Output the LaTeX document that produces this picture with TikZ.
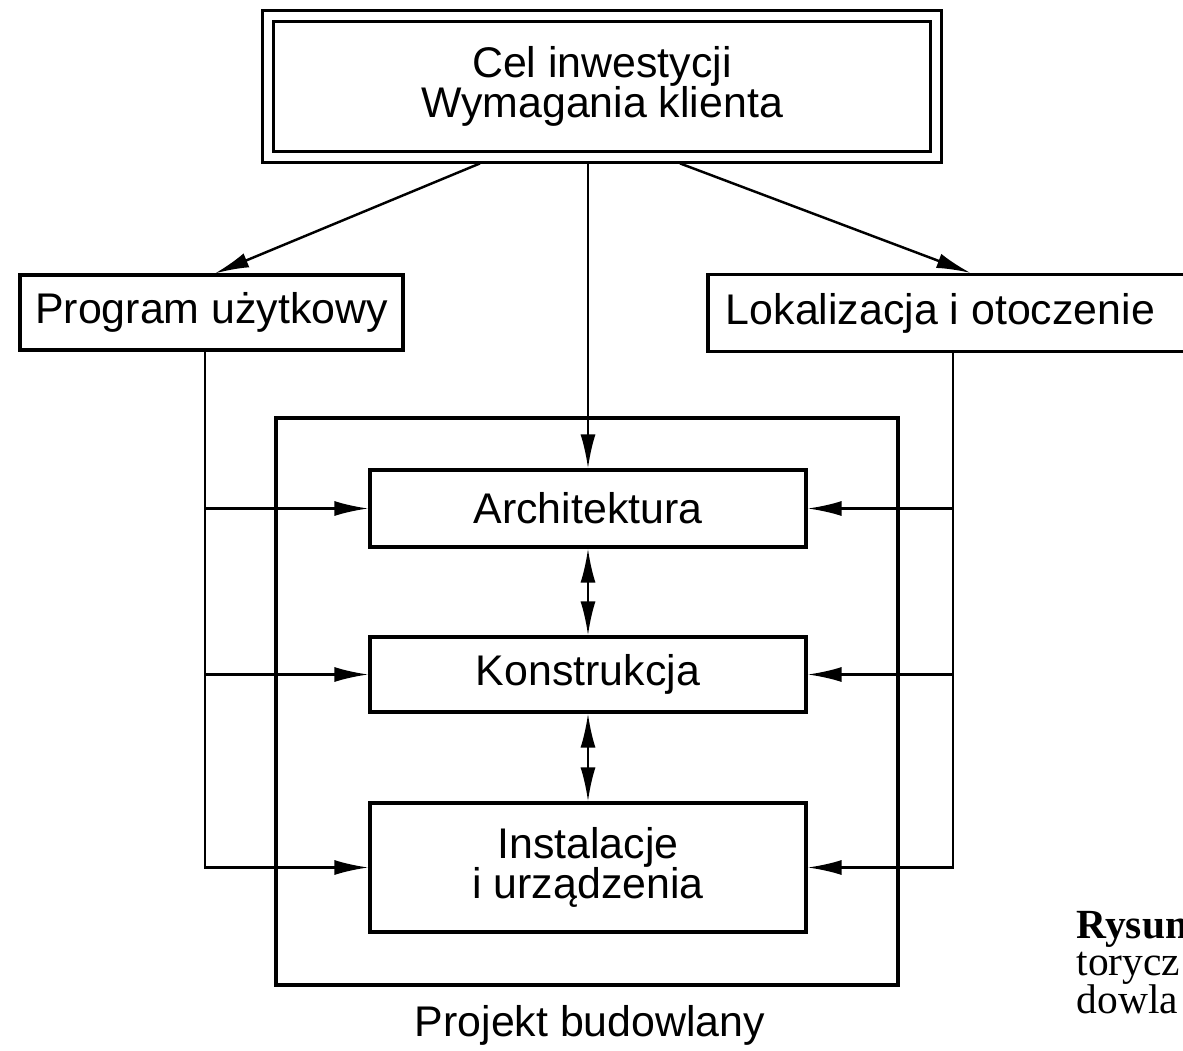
\documentclass[tikz,border=0pt]{standalone}
\usepackage{fontspec}
\setmainfont{Liberation Sans}
\newfontfamily\capfont{Liberation Serif}
\usetikzlibrary{arrows.meta}

\begin{document}
\begin{tikzpicture}[
        box/.style={draw, line width=0.9pt, align=center, inner sep=0pt, font=\fontsize{12.2}{11.6}\selectfont},
        goalbox/.style={box, double, double distance=2.3pt, line width=0.8pt},
        frame/.style={draw, line width=1.1pt, inner sep=0pt},
        caption/.style={anchor=base west, inner sep=0pt, font=\capfont\fontsize{11.8}{11.8}\selectfont},
        boldcaption/.style={caption, font=\capfont\bfseries\fontsize{11.8}{11.8}\selectfont},
        flow/.style={line width=0.7pt, -{Latex[length=3.4mm,width=1.5mm]}},
        both/.style={line width=0.7pt, {Latex[length=3.4mm,width=1.5mm]}-{Latex[length=3.4mm,width=1.5mm]}}
      ]
      \useasboundingbox (0,0) rectangle (11.83,-10.51);

      \node[goalbox, minimum width=6.68cm, minimum height=1.41cm] (goal) at (6.02,-0.865) {Cel inwestycji\\Wymagania klienta};
      \node[box, minimum width=3.83cm, minimum height=0.75cm] (prog) at (2.115,-3.125) {Program użytkowy};
      \node[box, minimum width=4.77cm, minimum height=0.77cm] (lok) at (9.465,-3.13) {\hspace*{-0.12cm}Lokalizacja i otoczenie};

      \node[frame, minimum width=6.22cm, minimum height=5.67cm] (proj) at (5.87,-7.015) {};
      \node[box, minimum width=4.36cm, minimum height=0.77cm] (arch) at (5.88,-5.085) {Architektura};
      \node[box, minimum width=4.36cm, minimum height=0.75cm] (kon) at (5.88,-6.745) {Konstrukcja};
      \node[box, minimum width=4.36cm, minimum height=1.29cm] (inst) at (5.88,-8.675) {Instalacje\\i urządzenia};
      \node[font=\fontsize{12.2}{12.5}\selectfont] (projlab) at (5.90,-10.25) {Projekt budowlany};

      \node[boldcaption] (cap1) at (10.76,-9.38) {Rysun};
      \node[caption] (cap2) at (10.76,-9.755) {torycz};
      \node[caption] (cap3) at (10.76,-10.13) {dowla};

      \coordinate (ltrunk) at (2.05,-3.5);
      \coordinate (rtrunk) at (9.53,-3.52);

      \draw[flow] ([xshift=-1.22cm,yshift=-0.05cm]goal.south) -- ([xshift=0.035cm]prog.north);
      \draw[flow] ([xshift=0.78cm,yshift=-0.05cm]goal.south) -- ([xshift=0.24cm]lok.north);
      \draw[flow] (arch.north |- goal.south) ++(0,-0.05) -- (arch.north);

      \draw[flow] (ltrunk) |- (inst.west);
      \draw[flow] (ltrunk |- arch) -- (arch.west);
      \draw[flow] (ltrunk |- kon) -- (kon.west);

      \draw[flow] (rtrunk) |- (inst.east);
      \draw[flow] (rtrunk |- arch) -- (arch.east);
      \draw[flow] (rtrunk |- kon) -- (kon.east);

      \draw[both] (arch.south) -- (kon.north);
      \draw[both] (kon.south) -- (inst.north);
    \end{tikzpicture}
\end{document}
